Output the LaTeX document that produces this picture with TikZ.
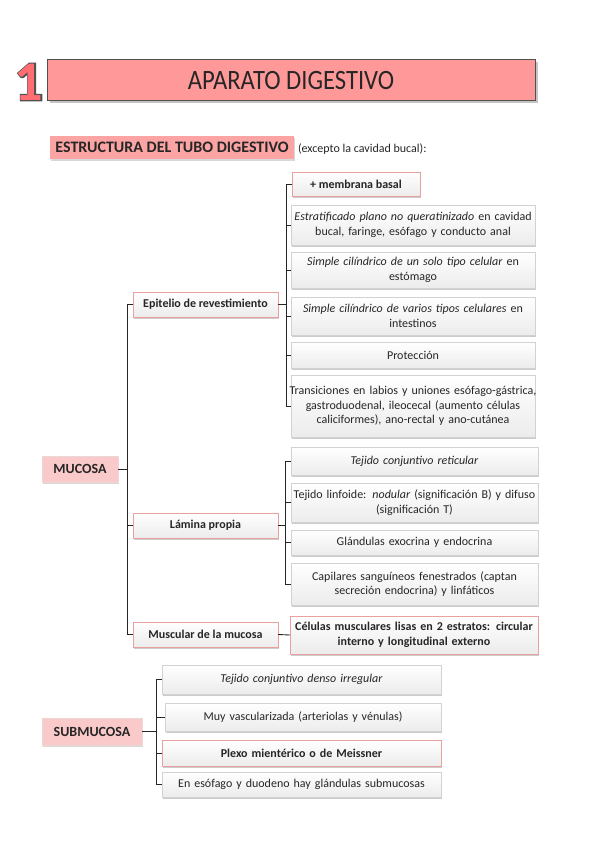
\documentclass[tikz,border=0pt]{standalone}
\usepackage{fontspec}
\setmainfont{Carlito}
\newfontfamily\titlefont[FakeStretch=0.88]{Carlito}
\newfontfamily\oneoutline[FakeBold=4.5]{Carlito Bold}
\usetikzlibrary{shadows,calc}
\definecolor{titlepink}{HTML}{FF9999}
\definecolor{headpink}{HTML}{FCA3A3}
\definecolor{lightpink}{HTML}{FACACA}
\definecolor{borderpink}{HTML}{EBA0A0}
\definecolor{onefill}{HTML}{FF6E73}
\definecolor{darkline}{HTML}{505050}
\tikzset{
  base/.style={inner sep=2pt, outer sep=0pt, align=center, text=black!85},
  leaf/.style={base, draw=gray!35, line width=0.6pt, top color=white, bottom color=gray!15,
    drop shadow={opacity=0.4, shadow xshift=1pt, shadow yshift=-2pt, fill=gray},
    font=\fontsize{12}{14.5}\selectfont},
  pinkleaf/.style={leaf, draw=borderpink, line width=0.9pt},
  boldleaf/.style={pinkleaf, font=\bfseries\fontsize{12}{14.5}\selectfont},
  root/.style={base, fill=lightpink, draw=lightpink!80!gray!60, line width=0.4pt,
    drop shadow={opacity=0.3, shadow xshift=1pt, shadow yshift=-1.8pt, fill=gray},
    font=\bfseries\fontsize{14}{16}\selectfont},
  conn/.style={draw=black!85, line width=0.9pt},
}
\begin{document}
\begin{tikzpicture}[x=1pt,y=1pt]
\useasboundingbox (0,0) rectangle (599,-848);
\fill[white] (0,0) rectangle (599,-848);

% big digit (outlined)
\node[inner sep=0pt, text=darkline] (oneback) at (29,-82) {\oneoutline\fontsize{56}{60}\selectfont 1};
\node[inner sep=0pt, text=onefill] (one) at (oneback.center) {\bfseries\fontsize{56}{60}\selectfont 1};

% title
\node[base, anchor=north west, minimum width=488pt, minimum height=41pt, fill=titlepink, draw=darkline, line width=1pt,
  drop shadow={opacity=0.45, shadow xshift=2.5pt, shadow yshift=-2.5pt, fill=gray}] (title) at (47,-60)
  {\titlefont\fontsize{28}{30}\selectfont APARATO DIGESTIVO};

% header
\node[base, anchor=north west, minimum width=244pt, minimum height=23pt, fill=headpink,
  drop shadow={opacity=0.3, shadow xshift=1pt, shadow yshift=-1.5pt, fill=gray},
  font=\bfseries\fontsize{16}{17}\selectfont] (head) at (50,-136) {ESTRUCTURA DEL TUBO DIGESTIVO};
\node[base, anchor=base west, inner sep=0pt, font=\fontsize{12}{13}\selectfont] (exc) at (298,-153) {(excepto la cavidad bucal):};

% roots
\node[root, anchor=north west, minimum width=76pt, minimum height=26pt] (muc) at (42,-456) {MUCOSA};
\node[root, anchor=north west, minimum width=100pt, minimum height=27pt] (sub) at (42,-718) {SUBMUCOSA};

% mid level
\node[boldleaf, anchor=north west, minimum width=145pt, minimum height=25pt] (epi) at (133,-292) {Epitelio de revestimiento};
\node[boldleaf, anchor=north west, minimum width=145pt, minimum height=25pt] (lam) at (133,-513) {Lámina propia};
\node[boldleaf, anchor=north west, minimum width=145pt, minimum height=25pt] (mus) at (133,-622) {Muscular de la mucosa};

% epitelio leaves
\node[boldleaf, anchor=north west, minimum width=128pt, minimum height=24pt] (e1) at (292,-172) {+ membrana basal};
\node[leaf, anchor=north west, text width=240pt, minimum height=40pt] (e2) at (291,-205)
  {\textit{Estratificado plano no queratinizado} en cavidad\\ bucal, faringe, esófago y conducto anal};
\node[leaf, anchor=north west, text width=240pt, minimum height=36pt] (e3) at (291,-252)
  {\textit{Simple cilíndrico de un solo tipo celular} en\\ estómago};
\node[leaf, anchor=north west, text width=240pt, minimum height=38pt] (e4) at (291,-297)
  {\textit{Simple cilíndrico de varios tipos celulares} en\\ intestinos};
\node[leaf, anchor=north west, text width=240pt, minimum height=26pt] (e5) at (291,-342) {Protección};
\node[leaf, anchor=north west, text width=240pt, minimum height=62pt] (e6) at (291,-375)
  {\makebox[240pt][c]{Transiciones en labios y uniones esófago-gástrica,}\\ gastroduodenal, ileocecal (aumento células\\ caliciformes), ano-rectal y ano-cutánea};

% lamina leaves
\node[leaf, anchor=north west, text width=243pt, minimum height=28pt] (l1) at (291,-447) {\textit{Tejido conjuntivo reticular}};
\node[leaf, anchor=north west, text width=243pt, minimum height=39pt] (l2) at (291,-483)
  {Tejido linfoide: \textit{nodular} (significación B) y difuso\\ (significación T)};
\node[leaf, anchor=north west, text width=243pt, minimum height=25pt] (l3) at (291,-530) {Glándulas exocrina y endocrina};
\node[leaf, anchor=north west, text width=243pt, minimum height=42pt] (l4) at (291,-563)
  {Capilares sanguíneos fenestrados (captan\\ secreción endocrina) y linfáticos};

% muscular leaf
\node[boldleaf, anchor=north west, text width=244pt, minimum height=38pt] (m1) at (290,-616)
  {Células musculares lisas en 2 estratos: circular\\ interno y longitudinal externo};

% submucosa leaves
\node[leaf, anchor=north west, text width=275pt, minimum height=29pt] (s1) at (162,-665) {\textit{Tejido conjuntivo denso irregular}};
\node[leaf, anchor=north west, text width=272pt, minimum height=28pt] (s2) at (165,-703) {Muy vascularizada (arteriolas y vénulas)};
\node[boldleaf, anchor=north west, text width=275pt, minimum height=26pt] (s3) at (162,-740) {Plexo mientérico o de Meissner};
\node[leaf, anchor=north west, text width=275pt, minimum height=25pt] (s4) at (162,-772) {En esófago y duodeno hay glándulas submucosas};

% connectors
\coordinate (mj) at ($(muc.east)+(9,0)$);
\draw[conn] (muc.east) -- (mj);
\draw[conn] (epi.west) -- (epi.west -| mj) -- (mus.west -| mj) -- (mus.west);
\draw[conn] (lam.west) -- (lam.west -| mj);

\coordinate (ej) at ($(epi.east)+(8,0)$);
\draw[conn] (epi.east) -- (ej);
\draw[conn] (e1.west) -- (e1.west -| ej) -- (e6.west -| ej) -- (e6.west);
\foreach \n in {e2,e3,e4,e5} \draw[conn] (\n.west) -- (\n.west -| ej);

\coordinate (lj) at ($(lam.east)+(7,0)$);
\draw[conn] (lam.east) -- (lj);
\draw[conn] (l1.west) -- (l1.west -| lj) -- (l4.west -| lj) -- (l4.west);
\foreach \n in {l2,l3} \draw[conn] (\n.west) -- (\n.west -| lj);

\draw[conn] (mus.east) -- (m1.west);

\coordinate (sj) at ($(sub.east)+(14,0)$);
\draw[conn] (sub.east) -- (sj);
\draw[conn] (s1.west) -- (s1.west -| sj) -- (s4.west -| sj) -- (s4.west);
\foreach \n in {s2,s3} \draw[conn] (\n.west) -- (\n.west -| sj);
\end{tikzpicture}
\end{document}
